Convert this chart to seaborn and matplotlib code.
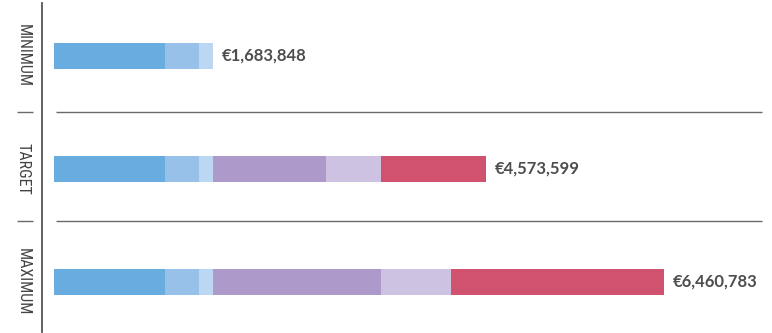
import numpy as np
import pandas as pd
import seaborn as sns
import matplotlib.pyplot as plt
from matplotlib.transforms import blended_transform_factory

# ---- data ----
scenarios = ["MINIMUM", "TARGET", "MAXIMUM"]
seg1 = [1172000, 1172000, 1172000]
seg2 = [363000, 363000, 363000]
seg3 = [148848, 148848, 148848]
seg4 = [0, 1192000, 1775000]
seg5 = [0, 582000, 745000]
seg6 = [0, 1115751, 2256935]
total_labels = ["€1,683,848", "€4,573,599", "€6,460,783"]
colors = ["#68ace0", "#98c1ea", "#bcd7f2", "#ae9aca", "#cec2e2", "#d1526f"]
separators = [0.5, 1.46]

sns.set_theme(style="white")
plt.rcParams["font.family"] = ["Lato", "DejaVu Sans"]

fig = plt.figure(figsize=(7.72, 3.33), dpi=100)
ax = fig.add_axes([42 / 772, 1 / 333, 730 / 772, 329 / 333])

segs = np.array([seg1, seg2, seg3, seg4, seg5, seg6], dtype=float)
cum = np.cumsum(segs, axis=0)

# stacked bars: draw cumulative totals from largest to smallest
for i in range(len(segs) - 1, -1, -1):
    df = pd.DataFrame({"scenario": scenarios, "value": cum[i]})
    sns.barplot(data=df, x="value", y="scenario", orient="h", color=colors[i],
                saturation=1, width=0.23, linewidth=0, ax=ax)

px = 10590.0  # value per pixel
ax.set_xlim(-12 * px, (772 - 54) * px)
ax.set_ylim((332 - 56) / 113, (3 - 56) / 113)

# value labels
totals = cum[-1]
for yi, (t, lab) in enumerate(zip(totals, total_labels)):
    ax.text(t + 9 * px, yi, lab, va="center", ha="left", fontsize=12,
            color="#4d4d4d", fontweight="bold")

# separators
for s in separators:
    ax.plot([0.019, 0.986], [s, s], transform=blended_transform_factory(ax.transAxes, ax.transData),
            color="#6a6a6a", lw=1.0, solid_capstyle="butt")
    ax.plot([17 / 772, 33 / 772], [s, s], transform=blended_transform_factory(fig.transFigure, ax.transData),
            color="#6a6a6a", lw=1.0, clip_on=False, solid_capstyle="butt")

# axes styling
for side in ["top", "right", "bottom"]:
    ax.spines[side].set_visible(False)
ax.spines["left"].set_color("#555555")
ax.spines["left"].set_linewidth(1.3)
ax.set_xticks([])
ax.set_xlabel("")
ax.set_ylabel("")
ax.set_yticks(range(len(scenarios)))
ax.set_yticklabels(scenarios, rotation=-90, va="center",
                   family=["Roboto Condensed", "DejaVu Sans"], fontweight=400, fontsize=11.5,
                   color="#444444")
ax.tick_params(axis="y", length=0, pad=8)

fig.savefig("out.png", dpi=100)
